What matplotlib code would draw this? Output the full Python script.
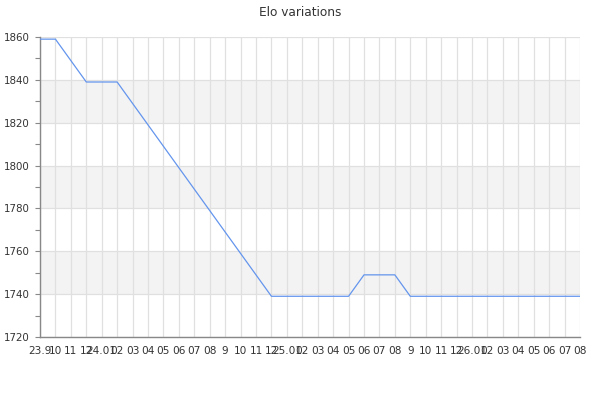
import matplotlib
matplotlib.use("Agg")
import matplotlib.pyplot as plt
from matplotlib.ticker import MultipleLocator

# monthly labels, Sep 2023 .. Aug 2026
months = ["23.9", "10", "11", "12",
          "24.01", "02", "03", "04", "05", "06", "07", "08", "9", "10", "11", "12",
          "25.01", "02", "03", "04", "05", "06", "07", "08", "9", "10", "11", "12",
          "26.01", "02", "03", "04", "05", "06", "07", "08"]
elo = [1859, 1859, 1849, 1839, 1839, 1839, 1829, 1819, 1809, 1799, 1789, 1779,
       1769, 1759, 1749, 1739, 1739, 1739, 1739, 1739, 1739, 1749, 1749, 1749,
       1739, 1739, 1739, 1739, 1739, 1739, 1739, 1739, 1739, 1739, 1739, 1739]

TEXT = "#333333"
GRID = "#e0e0e0"
BAND = "#f3f3f3"
LINE = "#6495ed"

fig = plt.figure(figsize=(6, 4), dpi=100)
ax = fig.add_axes([40 / 600, 63 / 400, 540 / 600, 300 / 400])

x = list(range(len(months)))
ax.set_xlim(0, len(months) - 1)
ax.set_ylim(1720, 1860)

# alternating horizontal bands
for lo in range(1740, 1860, 40):
    ax.axhspan(lo, lo + 20, color=BAND, lw=0, zorder=0)

ax.plot(x, elo, color=LINE, lw=0.9, zorder=3)

ax.set_xticks(x)
ax.set_xticklabels(months)
ax.yaxis.set_major_locator(MultipleLocator(20))
ax.yaxis.set_minor_locator(MultipleLocator(10))

ax.grid(True, which="major", color=GRID, lw=0.9, zorder=1)
ax.set_axisbelow(True)

for side in ("top", "right"):
    ax.spines[side].set_visible(False)
for side in ("left", "bottom"):
    ax.spines[side].set_color("#888888")
    ax.spines[side].set_linewidth(1.0)

ax.tick_params(axis="y", which="both", length=3.5, width=0.8, color="#888888",
               labelsize=7.4, labelcolor=TEXT, pad=4)
ax.tick_params(axis="x", length=0, labelsize=7.6, labelcolor=TEXT, pad=6.5)

fig.text(0.5, 1 - 12 / 400, "Elo variations", ha="center", va="center",
         fontsize=8.7, color=TEXT)

fig.savefig("out.png", dpi=100)
